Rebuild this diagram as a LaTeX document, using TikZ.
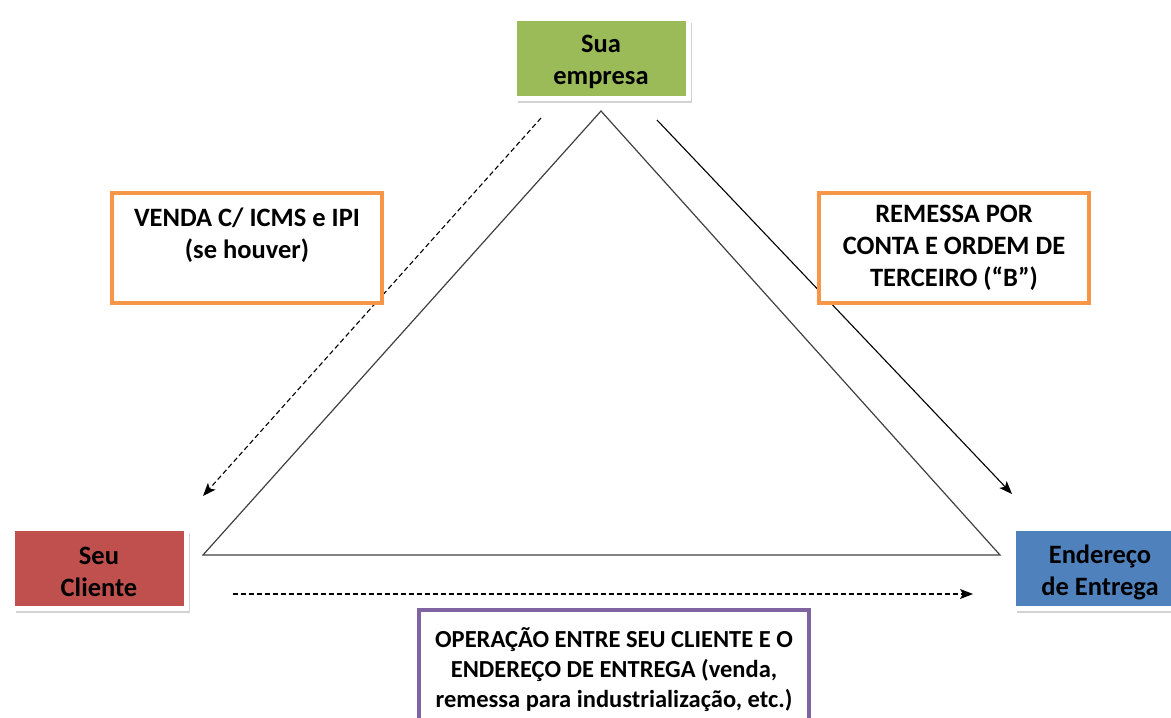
\documentclass[tikz,border=0pt]{standalone}
\usepackage{fontspec}
\setmainfont{Carlito}
\usepackage{xcolor}
\usetikzlibrary{arrows.meta,positioning,shadows}
\definecolor{verde}{HTML}{9BBB59}
\definecolor{vermelho}{HTML}{C0504D}
\definecolor{azul}{HTML}{4F81BD}
\definecolor{laranja}{HTML}{F79646}
\definecolor{roxo}{HTML}{8064A2}
\begin{document}
\begin{tikzpicture}[x=1pt,y=-1pt,
  fonte/.style={font=\bfseries\fontsize{26.5}{32}\selectfont, align=center},
  bloco/.style={draw=white, line width=5pt, minimum width=174pt, minimum height=80pt,
    drop shadow={shadow xshift=4pt, shadow yshift=-5pt, fill=black!35},
    label={[fonte, yshift=-4pt]center:{#1}}},
  caixa/.style={fonte, draw=#1, line width=4pt, fill=white},
  seta/.style={-{Stealth[length=13pt,width=10pt,inset=3pt]}, line width=1.1pt},
  tracejada/.style={seta, dash pattern=on 5pt off 3pt}]
\useasboundingbox (0,0) rectangle (1171,718);
\node[bloco={Sua\\empresa}, fill=verde] (empresa) at (601,58) {};
\node[bloco={Seu\\Cliente}, fill=vermelho] (cliente) at (99,568) {};
\node[bloco={Endereço\\de Entrega}, fill=azul] (entrega) at (1100,568) {};
\coordinate (topo) at (601,111);
\coordinate (esq) at (203,555);
\coordinate (dir) at (1000,555);
\draw[black!75, line width=1.2pt] (topo) -- (esq) -- (dir) -- cycle;
\coordinate (a1) at (541,118);
\coordinate (a2) at (203,496);
\coordinate (b1) at (657,120);
\coordinate (b2) at (1012,494);
\coordinate (c1) at (233,594);
\coordinate (c2) at (973,594);
\draw[tracejada] (a1) -- (a2);
\draw[seta] (b1) -- (b2);
\draw[tracejada] (c1) -- (c2);
\node[caixa=laranja, minimum width=270pt, minimum height=110pt] (venda) at (247,248) {};
\node[fonte] (vendatxt) at (247,235) {VENDA C/ ICMS e IPI\\(se houver)};
\node[caixa=laranja, minimum width=270pt, minimum height=110pt] (remessa) at (954,248)
  {REMESSA POR\\CONTA E ORDEM DE\\TERCEIRO (“B”)};
\node[caixa=roxo, minimum width=390pt, minimum height=120pt, font=\bfseries\fontsize{24.5}{30}\selectfont] (operacao) at (614,670)
  {OPERAÇÃO ENTRE SEU CLIENTE E O\\ENDEREÇO DE ENTREGA (venda,\\remessa para industrialização, etc.)};
\end{tikzpicture}
\end{document}
